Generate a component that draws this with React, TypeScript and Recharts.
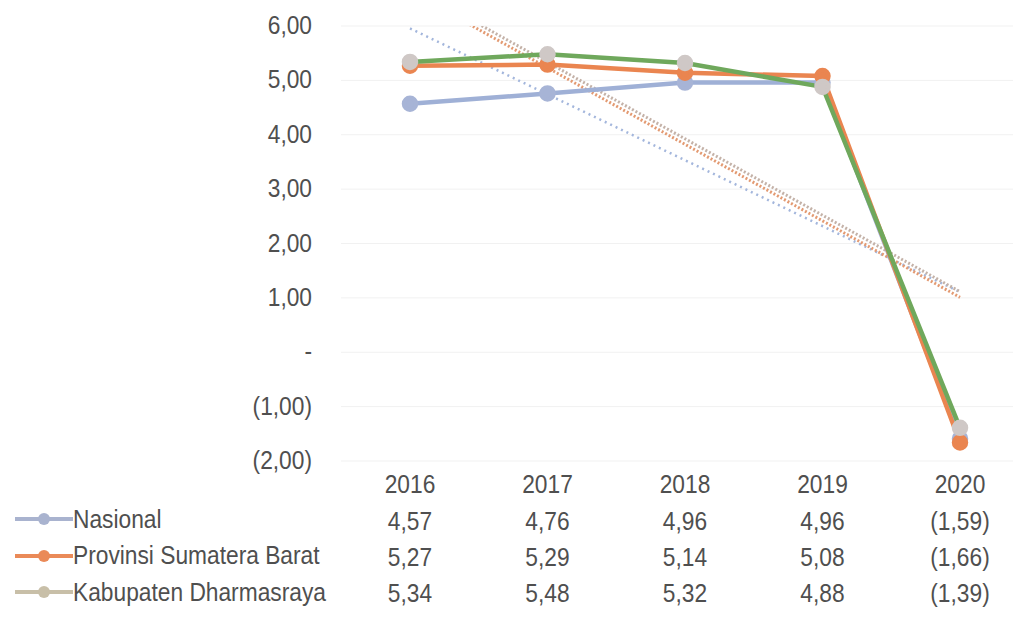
import { LineChart, Line, XAxis, YAxis, CartesianGrid } from "recharts";

const years = ["2016", "2017", "2018", "2019", "2020"];
const nasional = [4.57, 4.76, 4.96, 4.96, -1.59];
const sumbar = [5.27, 5.29, 5.14, 5.08, -1.66];
const dharmasraya = [5.34, 5.48, 5.32, 4.88, -1.39];
const yTicks = [-2, -1, 0, 1, 2, 3, 4, 5, 6];

const seriesNames = ["Nasional", "Provinsi Sumatera Barat", "Kabupaten Dharmasraya"];
const seriesValues = [nasional, sumbar, dharmasraya];
const lineColors = ["#9fb0d6", "#ea8550", "#6fa85c"];
const dotColors = ["#a7b4d6", "#ea8550", "#cfc8c6"];
const legendColors = ["#a9b3cf", "#ea8a58", "#c8bfa8"];
const trendColors = ["#a3b6dc", "#e39a72", "#c4b2a8"];

const font = "'Liberation Sans', Arial, sans-serif";
const textColor = "#4f4f4f";
const squeeze = 0.91; // the scan's font is a narrow one

// linear trendline, like the spreadsheet one
function trend(vals: number[]) {
  const n = vals.length;
  const mx = (n + 1) / 2;
  const my = vals.reduce((a, b) => a + b, 0) / n;
  let num = 0;
  let den = 0;
  vals.forEach((v, i) => {
    num += (i + 1 - mx) * (v - my);
    den += (i + 1 - mx) * (i + 1 - mx);
  });
  const slope = num / den;
  return vals.map((_, i) => my + slope * (i + 1 - mx));
}

const trends = seriesValues.map(trend);

const data = years.map((year, i) => ({
  year,
  nasional: nasional[i],
  sumbar: sumbar[i],
  dharmasraya: dharmasraya[i],
  tNas: trends[0][i],
  tSum: trends[1][i],
  tDha: trends[2][i],
}));

function fmt(v: number) {
  if (v === 0) return "-";
  const s = Math.abs(v).toFixed(2).replace(".", ",");
  return v < 0 ? `(${s})` : s;
}

function Label({ x, y, anchor, children }: any) {
  return (
    <text
      transform={`translate(${x},${y}) scale(${squeeze},1)`}
      dy={8}
      textAnchor={anchor}
      fontSize={25}
      fontFamily={font}
      fill={textColor}
    >
      {children}
    </text>
  );
}

function YTick({ x, y, payload }: any) {
  return (
    <Label x={x} y={y} anchor="end">
      {fmt(payload.value)}
    </Label>
  );
}

function XTick({ x, y, payload, index }: any) {
  const rows = [22, 59, 95, 131];
  return (
    <g>
      <Label x={x} y={y + rows[0]} anchor="middle">
        {payload.value}
      </Label>
      {seriesValues.map((vals, k) => (
        <Label key={k} x={x} y={y + rows[k + 1]} anchor="middle">
          {fmt(vals[index])}
        </Label>
      ))}
    </g>
  );
}

function TableLegend() {
  return (
    <div style={{ position: "absolute", left: 15, top: 501, fontFamily: font, fontSize: 25, color: textColor }}>
      {seriesNames.map((name, k) => (
        <div key={name} style={{ display: "flex", alignItems: "center", height: 36.5 }}>
          <svg width={58} height={20}>
            <line x1={0} y1={10} x2={58} y2={10} stroke={legendColors[k]} strokeWidth={4} />
            <circle cx={29} cy={10} r={6} fill={legendColors[k]} />
          </svg>
          <span style={{ display: "inline-block", transform: `scaleX(${squeeze})`, transformOrigin: "left center", whiteSpace: "nowrap" }}>
            {name}
          </span>
        </div>
      ))}
    </div>
  );
}

export default function App() {
  return (
    <div style={{ margin: -8, width: 1021, height: 625, overflow: "hidden", background: "#fff", position: "relative" }}>
      <LineChart width={1040} height={625} data={data} margin={{ top: 26, right: 11, left: 0, bottom: 0 }}>
        <CartesianGrid vertical={false} stroke="#f1f1f1" strokeWidth={1} />
        <XAxis
          dataKey="year"
          height={164}
          axisLine={false}
          tickLine={false}
          tickSize={0}
          tick={<XTick />}
          interval={0}
          padding={{ left: 69, right: 69 }}
        />
        <YAxis
          width={341}
          domain={[-2, 6]}
          ticks={yTicks}
          allowDataOverflow
          axisLine={false}
          tickLine={false}
          tickSize={0}
          tickMargin={29}
          tick={<YTick />}
          interval={0}
        />
        <Line dataKey="tNas" stroke={trendColors[0]} strokeWidth={2.5} strokeDasharray="2 4" dot={false} legendType="none" isAnimationActive={false} />
        <Line dataKey="tSum" stroke={trendColors[1]} strokeWidth={3} strokeDasharray="2 2" dot={false} legendType="none" isAnimationActive={false} />
        <Line dataKey="tDha" stroke={trendColors[2]} strokeWidth={3} strokeDasharray="2 2" strokeDashoffset={2} dot={false} legendType="none" isAnimationActive={false} />
        <Line dataKey="nasional" name={seriesNames[0]} stroke={lineColors[0]} strokeWidth={4.5} dot={{ r: 6, fill: dotColors[0], stroke: dotColors[0] }} isAnimationActive={false} />
        <Line dataKey="sumbar" name={seriesNames[1]} stroke={lineColors[1]} strokeWidth={4.5} dot={{ r: 6, fill: dotColors[1], stroke: dotColors[1] }} isAnimationActive={false} />
        <Line dataKey="dharmasraya" name={seriesNames[2]} stroke={lineColors[2]} strokeWidth={4.5} dot={{ r: 6, fill: dotColors[2], stroke: dotColors[2] }} isAnimationActive={false} />
      </LineChart>
      <TableLegend />
    </div>
  );
}
